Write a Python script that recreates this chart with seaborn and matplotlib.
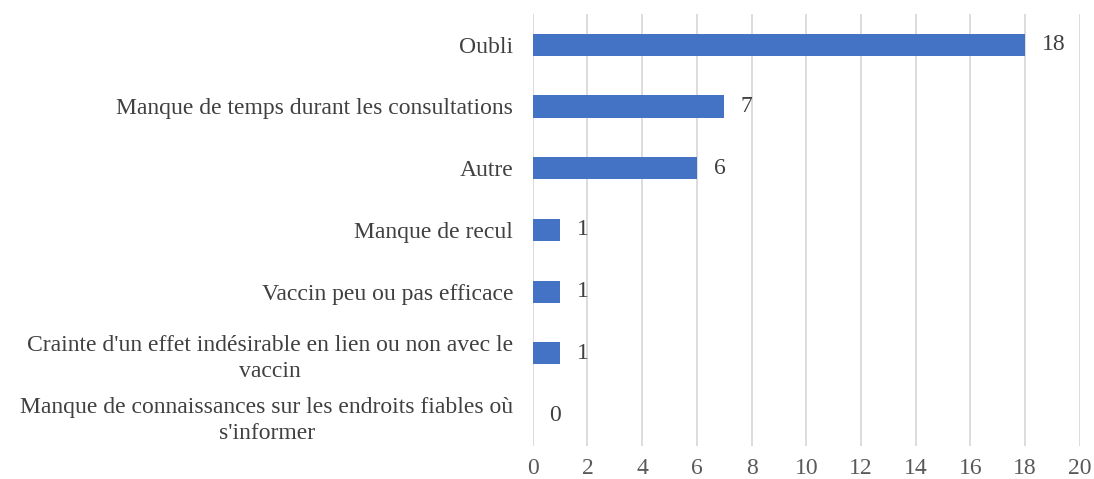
import matplotlib
matplotlib.use('Agg')
import matplotlib.pyplot as plt
import seaborn as sns
import pandas as pd

# Chart data
categories = [
    "Oubli",
    "Manque de temps durant les consultations",
    "Autre",
    "Manque de recul",
    "Vaccin peu ou pas efficace",
    "Crainte d'un effet indésirable en lien ou non avec le\nvaccin",
    "Manque de connaissances sur les endroits fiables où\ns'informer",
]
counts = [18, 7, 6, 1, 1, 1, 0]
x_ticks = list(range(0, 21, 2))

df = pd.DataFrame({'category': categories, 'count': counts})

sns.set_theme(style='white')
plt.rcParams['font.family'] = ['Liberation Serif', 'DejaVu Serif']

fs = 17

fig = plt.figure(figsize=(10.94, 4.79), dpi=100)
ax = fig.add_axes([0.487, 0.069, 0.500, 0.902])

sns.barplot(data=df, x='count', y='category', color='#4472C4',
            width=0.36, saturation=1, linewidth=0, ax=ax, orient='h')

ax.set_xlim(0, 20)
ax.set_xticks(x_ticks)
ax.set_xticklabels([str(t) for t in x_ticks], fontsize=fs, color='#595959')
ax.xaxis.grid(True, color='#D9D9D9', linewidth=1.3)
ax.set_axisbelow(True)
ax.set_xlabel('')
ax.set_ylabel('')
for s in ax.spines.values():
    s.set_visible(False)

ax.tick_params(axis='y', length=0, pad=14)
ax.tick_params(axis='x', length=0, pad=9)
for lbl in ax.get_yticklabels():
    lbl.set_fontsize(fs)
    lbl.set_color('#404040')
    lbl.set_multialignment('center')
    lbl.set_linespacing(1.35)

for cont in ax.containers:
    ax.bar_label(cont, labels=[str(v) for v in counts], padding=12,
                 fontsize=fs, color='#404040')

fig.savefig('out.png', dpi=100)
